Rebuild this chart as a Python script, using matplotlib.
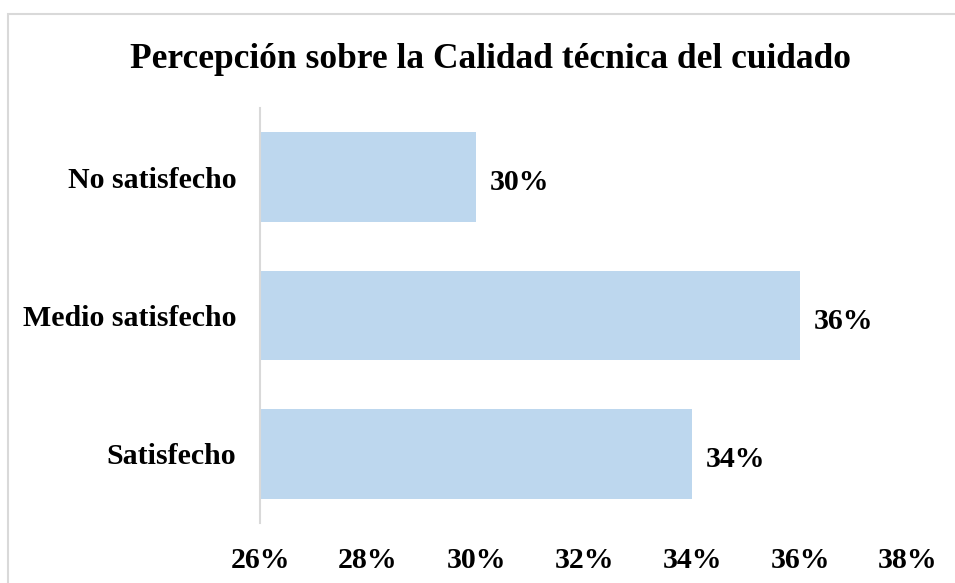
import matplotlib
matplotlib.use("Agg")
import matplotlib.pyplot as plt
from matplotlib.patches import Rectangle
from matplotlib.ticker import FuncFormatter

plt.rcParams["font.family"] = ["Liberation Serif", "DejaVu Serif"]
plt.rcParams["font.weight"] = "bold"

# ── 数据 ──
categories = ["No satisfecho", "Medio satisfecho", "Satisfecho"]
values = [30, 36, 34]
x_ticks = [26, 28, 30, 32, 34, 36, 38]
title = "Percepción sobre la Calidad técnica del cuidado"

W, H = 955, 583
fig = plt.figure(figsize=(W / 100, H / 100), dpi=100)

# 外框（右侧和下侧被裁掉）
fig.patches.append(Rectangle((7.5 / W, -0.1), 2, (H - 14.5) / H + 0.1,
                             transform=fig.transFigure, fill=False,
                             edgecolor="#D9D9D9", linewidth=1.5))

ax = fig.add_axes([260 / W, (H - 523) / H, (908 - 260) / W, (523 - 108) / H])
y = range(len(categories))
ax.barh(y, values, height=0.65, left=0, color="#BDD7EE")
ax.set_xlim(26, 38)
ax.set_ylim(2.5, -0.5)

for yi, v in zip(y, values):
    ax.text(v + 0.26, yi + 0.04, f"{v}%", va="center", ha="left",
            fontsize=21.5, fontweight="bold")

ax.set_xticks(x_ticks)
ax.xaxis.set_major_formatter(FuncFormatter(lambda v, p: f"{v:.0f}%"))
ax.set_yticks(list(y))
ax.set_yticklabels(categories)
ax.tick_params(axis="x", length=0, pad=17.5, labelsize=21.5)
ax.tick_params(axis="y", length=0, pad=17, labelsize=21.5)

for s in ["top", "right", "bottom"]:
    ax.spines[s].set_visible(False)
ax.spines["left"].set_color("#D9D9D9")
ax.spines["left"].set_linewidth(1.5)

fig.text(490 / W, 1 - 59 / H, title, ha="center", va="center",
         fontsize=25.5, fontweight="bold")

fig.savefig("out.png", dpi=100)
